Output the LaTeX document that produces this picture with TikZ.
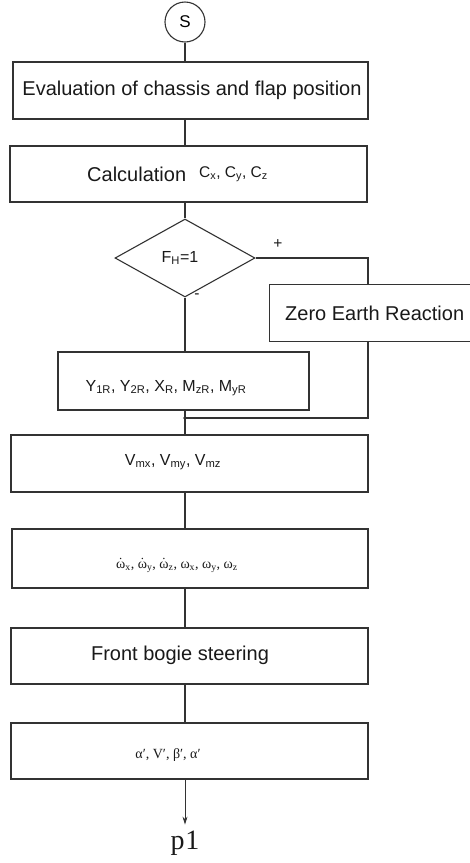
\documentclass[tikz,border=0pt]{standalone}
\usepackage{fontspec}
\setmainfont{Liberation Sans}
\newfontfamily\serifx{Liberation Serif}
\usetikzlibrary{shapes.geometric,arrows.meta}
\newcommand\dotom{\ooalign{ω\cr\hidewidth\raisebox{0.05em}{˙}\hidewidth\cr}}
\begin{document}
\begin{tikzpicture}[x=1pt,y=-1pt,
  ln/.style={line width=1.1pt, draw=black!80},
  boxx/.style={ln, rectangle, inner sep=0pt},
  txt/.style={inner sep=0pt, text=black!90, font=\fontsize{20}{22}\selectfont},
  mtxt/.style={inner sep=0pt, text=black!90, font=\fontsize{16}{18}\selectfont},
  stxt/.style={inner sep=0pt, text=black!90, font=\fontsize{15.5}{17}\selectfont},
  rtxt/.style={inner sep=0pt, text=black!90, font=\serifx\fontsize{14}{16}\selectfont}]
\useasboundingbox (0,0) rectangle (470,863);
% nodes
\node[ln, circle, minimum size=40pt, inner sep=0pt, font=\fontsize{17}{19}\selectfont] (s) at (185,22) {S};
\node[boxx, minimum width=355pt, minimum height=57pt] (b1) at (190.5,90.5) {};
\node[boxx, minimum width=357pt, minimum height=56pt] (b2) at (188.5,174) {};
\node[ln, diamond, minimum width=140pt, minimum height=78pt, inner sep=0pt] (dia) at (185,258) {};
\node[inner sep=0pt, minimum width=200pt, minimum height=56pt] (zer) at (370,313) {};
\node[boxx, minimum width=251pt, minimum height=58pt] (by) at (183.5,381) {};
\node[boxx, minimum width=357pt, minimum height=57pt] (bv) at (189.5,463.5) {};
\node[boxx, minimum width=356pt, minimum height=59pt] (bw) at (190,558.5) {};
\node[boxx, minimum width=357pt, minimum height=56pt] (bf) at (189.5,656) {};
\node[boxx, minimum width=357pt, minimum height=56pt] (ba) at (189.5,751) {};
\node[inner sep=0pt, text=black!90, font=\serifx\fontsize{28}{30}\selectfont] (p1) at (185,843) {p\hspace{1pt}1};
\coordinate (rx) at (368,0);
\coordinate (jn) at (185,418);
% texts
\node[txt] (t1) at (192,90) {Evaluation of chassis and flap position};
\node[txt, anchor=west] (t2) at (87,174) {Calculation};
\node[stxt, anchor=west] (t2b) at (199,174) {C\textsubscript{x}, C\textsubscript{y}, C\textsubscript{z}};
\node[mtxt] (tf) at (180,258) {F\textsubscript{H}=1};
\node[stxt] (tp) at (278,244) {+};
\node[stxt] (tm) at (197,296) {-};
\node[txt, anchor=west] (tz) at (285,313) {Zero Earth Reaction};
\node[mtxt] (ty) at (166,388) {Y\textsubscript{1R}, Y\textsubscript{2R}, X\textsubscript{R}, M\textsubscript{zR}, M\textsubscript{yR}};
\node[mtxt] (tv) at (173,462) {V\textsubscript{mx}, V\textsubscript{my}, V\textsubscript{mz}};
\node[rtxt] (tw) at (177,567) {\dotom\textsubscript{x}, \dotom\textsubscript{y}, \dotom\textsubscript{z}, ω\textsubscript{x}, ω\textsubscript{y}, ω\textsubscript{z}};
\node[txt] (tb) at (180,655) {Front bogie steering};
\node[rtxt] (ta) at (168,755) {α′, V′, β′, α′};
% open box for Zero Earth Reaction
\draw[ln] (zer.north east) -- (zer.north west) -- (zer.south west) -- (zer.south east);
% connectors
\draw[ln] (s.south) -- (s |- b1.north);
\draw[ln] (s |- b1.south) -- (s |- b2.north);
\draw[ln] (s |- b2.south) -- (dia.north);
\draw[ln] (dia.east) -| (rx |- zer.north);
\draw[ln] (dia.south) -- (dia.south |- by.north);
\draw[ln] (rx |- zer.south) |- (jn);
\draw[ln] (s |- by.south) -- (jn) -- (s |- bv.north);
\fill[black!80] (jn) circle (1.8pt);
\draw[ln] (s |- bv.south) -- (s |- bw.north);
\draw[ln] (s |- bw.south) -- (s |- bf.north);
\draw[ln] (s |- bf.south) -- (s |- ba.north);
\draw[ln, line width=0.9pt, -{Stealth[length=8pt,width=5pt]}, shorten >=6pt] (s |- ba.south) -- (p1.north);
\end{tikzpicture}
\end{document}
